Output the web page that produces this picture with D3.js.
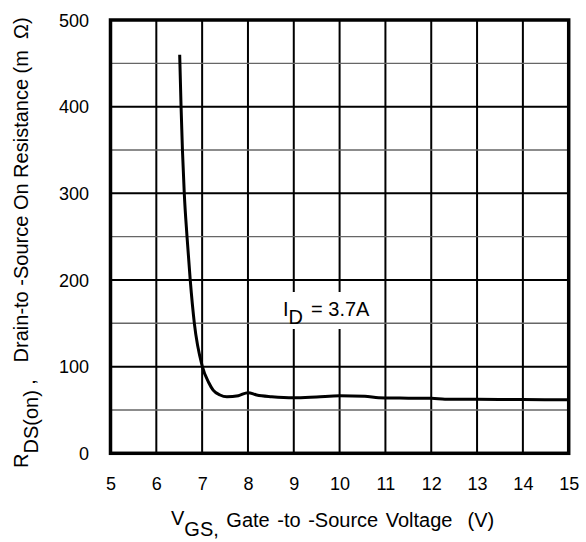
<!DOCTYPE html>
<html>
<head>
<meta charset="utf-8">
<script src="https://cdn.jsdelivr.net/npm/d3@7"></script>
<style>
  html, body { margin: 0; padding: 0; background: #fff; }
  svg { display: block; }
  text { font-family: "Liberation Sans", Arial, sans-serif; fill: #000; white-space: pre; }
</style>
</head>
<body>
<svg id="chart" width="586" height="542"></svg>
<script>
// ---- data ----
const vgs = [6.51, 6.54, 6.57, 6.61, 6.67, 6.74, 6.83, 7.0, 7.14, 7.24, 7.39, 7.54, 7.79, 8.0, 8.19, 8.52, 9.0, 9.5, 10.0, 10.55, 10.85, 11.0, 12.0, 12.3, 13.0, 14.0, 15.0];
const rds = [460, 400, 350, 300, 250, 200, 150, 101, 82, 73, 67.3, 65.3, 66.5, 70, 67.3, 65.3, 64, 65, 66.3, 65.8, 64, 63.8, 63.5, 62.5, 62.3, 62, 61.8];
const xTicks = [5, 6, 7, 8, 9, 10, 11, 12, 13, 14, 15];
const yTicks = [0, 100, 200, 300, 400, 500];
const yMinor = [50, 150, 250, 350, 450];
const annotation = { main: "I", sub: "D", rest: "= 3.7A" };

const svg = d3.select("#chart");
const pL = 110.5, pR = 568.7, pT = 20, pB = 453.3;
const x = d3.scaleLinear().domain([5, 15]).range([pL, pR]);
const y = d3.scaleLinear().domain([0, 500]).range([pB, pT]);

// vertical grid
svg.append("g").selectAll("line").data(xTicks).join("line")
  .attr("x1", d => x(d)).attr("x2", d => x(d))
  .attr("y1", pT).attr("y2", pB)
  .attr("stroke", "#000").attr("stroke-width", 2);

// white box behind the annotation (hides vertical grid)
const annG = svg.append("g");
annG.append("rect").attr("x", 281).attr("y", 292).attr("width", 96).attr("height", 37).attr("fill", "#fff");

// minor horizontal grid
svg.append("g").selectAll("line").data(yMinor).join("line")
  .attr("x1", pL).attr("x2", pR)
  .attr("y1", d => y(d)).attr("y2", d => y(d))
  .attr("stroke", "#666").attr("stroke-width", 1.4);

// major horizontal grid
svg.append("g").selectAll("line").data(yTicks).join("line")
  .attr("x1", pL).attr("x2", pR)
  .attr("y1", d => y(d)).attr("y2", d => y(d))
  .attr("stroke", "#000").attr("stroke-width", 2);

// frame
svg.append("rect")
  .attr("x", pL).attr("y", pT)
  .attr("width", pR - pL).attr("height", pB - pT)
  .attr("fill", "none").attr("stroke", "#000").attr("stroke-width", 3.5);

// axes tick labels via d3 axes (no tick lines)
const xAxis = svg.append("g").attr("transform", `translate(0,${pB})`)
  .call(d3.axisBottom(x).tickValues(xTicks).tickFormat(d3.format("d")).tickSize(0).tickPadding(0));
xAxis.select(".domain").remove();
xAxis.selectAll("text").attr("dy", null).attr("y", 36.7).attr("font-size", 18)
  .attr("font-family", "Liberation Sans, Arial, sans-serif").attr("fill", "#000");

const yAxis = svg.append("g").attr("transform", `translate(${pL},0)`)
  .call(d3.axisLeft(y).tickValues(yTicks).tickFormat(d3.format("d")).tickSize(0).tickPadding(0));
yAxis.select(".domain").remove();
yAxis.selectAll("text").attr("x", -21.5).attr("dy", "0.35em").attr("font-size", 18)
  .attr("font-family", "Liberation Sans, Arial, sans-serif").attr("fill", "#000");

// curve
const line = d3.line().x((d, i) => x(vgs[i])).y((d, i) => y(rds[i])).curve(d3.curveMonotoneX);
svg.append("path").datum(rds).attr("d", line)
  .attr("fill", "none").attr("stroke", "#000").attr("stroke-width", 3).attr("stroke-linejoin", "round");

// annotation
const ann = svg.append("text").attr("x", 283).attr("y", 316).attr("font-size", 20);
ann.append("tspan").text(annotation.main);
ann.append("tspan").attr("dy", 8).text(annotation.sub);
ann.append("tspan").attr("dy", -8).attr("dx", 8).text(annotation.rest);

// x label
const xl = svg.append("text").attr("x", 171).attr("y", 525).attr("font-size", 20).attr("word-spacing", 2);
xl.append("tspan").text("V");
xl.append("tspan").attr("dy", 11).text("GS,");
xl.append("tspan").attr("dy", -9).text(" Gate -to -Source Voltage  (V)");

// y label
const yl = svg.append("text").attr("transform", "translate(28,468) rotate(-90)").attr("font-size", 20);
yl.append("tspan").text("R");
yl.append("tspan").attr("dy", 10).text("DS(on)");
yl.append("tspan").attr("dy", -3).text(" ,");
yl.append("tspan").attr("dy", -7).text("   Drain-to -Source On Resistance (m  \u03A9)");
</script>
</body>
</html>
